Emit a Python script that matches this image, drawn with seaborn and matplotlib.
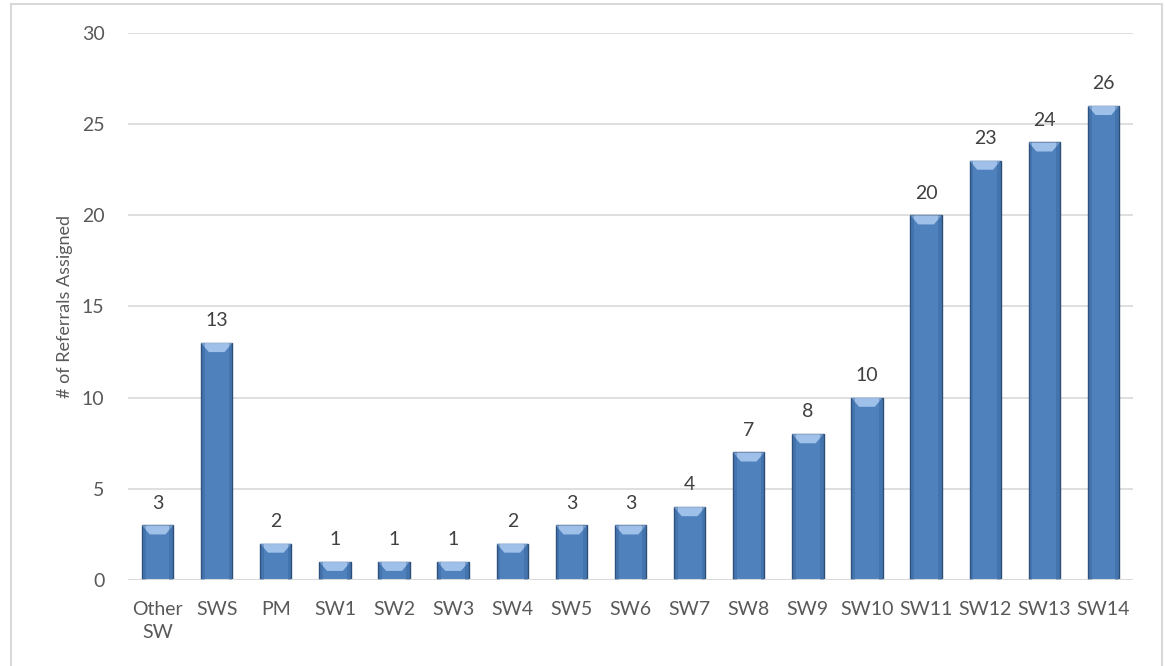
import pandas as pd
import matplotlib.pyplot as plt
import matplotlib.patches as mpatches
import seaborn as sns

# Data
staff = ["Other\nSW", "SWS", "PM", "SW1", "SW2", "SW3", "SW4", "SW5", "SW6",
         "SW7", "SW8", "SW9", "SW10", "SW11", "SW12", "SW13", "SW14"]
referrals = [3, 13, 2, 1, 1, 1, 2, 3, 3, 4, 7, 8, 10, 20, 23, 24, 26]

df = pd.DataFrame({"Staff": staff, "Referrals": referrals})

sns.set_style("white")
plt.rcParams["font.family"] = ["Lato", "DejaVu Sans"]

fig = plt.figure(figsize=(11.65, 6.66), dpi=100)
ax = fig.add_axes([0.1099, 0.1291, 0.8626, 0.8214])

sns.barplot(data=df, x="Staff", y="Referrals", color="#4f81bd",
            width=0.53, saturation=1, edgecolor="#2c4d75", linewidth=1, ax=ax)

# lighter bevel at the top of each bar, built from the drawn bars
for p in ax.patches:
    x0, w, h = p.get_x(), p.get_width(), p.get_height()
    cap = min(0.5, h * 0.5)
    ax.add_patch(mpatches.Polygon(
        [(x0, h), (x0 + w, h), (x0 + w * 0.75, h - cap), (x0 + w * 0.25, h - cap)],
        closed=True, facecolor="#a9c8ef", edgecolor="none", alpha=0.9, zorder=3))
    ax.add_patch(mpatches.Rectangle((x0, 0), w * 0.12, h, facecolor="#2f5d94",
                                    edgecolor="none", alpha=0.35, zorder=3))
    ax.add_patch(mpatches.Rectangle((x0 + w * 0.88, 0), w * 0.12, h, facecolor="#2f5d94",
                                    edgecolor="none", alpha=0.35, zorder=3))

for i, v in enumerate(referrals):
    ax.text(i, v + 0.75, str(v), ha="center", va="bottom", fontsize=14, color="#404040")

ax.set_ylim(0, 30)
ax.set_xlim(-0.5, len(staff) - 0.5)
ax.set_yticks(range(0, 31, 5))
ax.yaxis.grid(True, color="#d9d9d9", linewidth=1.2)
ax.set_axisbelow(True)
for s in ax.spines.values():
    s.set_visible(False)
ax.axhline(0, color="#d9d9d9", linewidth=1.5, zorder=1)

ax.tick_params(axis="both", length=0, labelsize=14, colors="#595959")
ax.tick_params(axis="x", pad=15)
ax.tick_params(axis="y", pad=17)
for lbl in ax.get_xticklabels():
    lbl.set_linespacing(1.45)
ax.set_xlabel("")
ax.set_ylabel("# of Referrals Assigned", fontsize=13, color="#595959", labelpad=6)

# chart area border
fig.patches.append(mpatches.Rectangle((11 / 1165, -0.05), 1151 / 1165, 1.05 - 4 / 666,
                                      transform=fig.transFigure, fill=False,
                                      edgecolor="#d9d9d9", linewidth=1.5))

plt.savefig("out.png", dpi=100)
